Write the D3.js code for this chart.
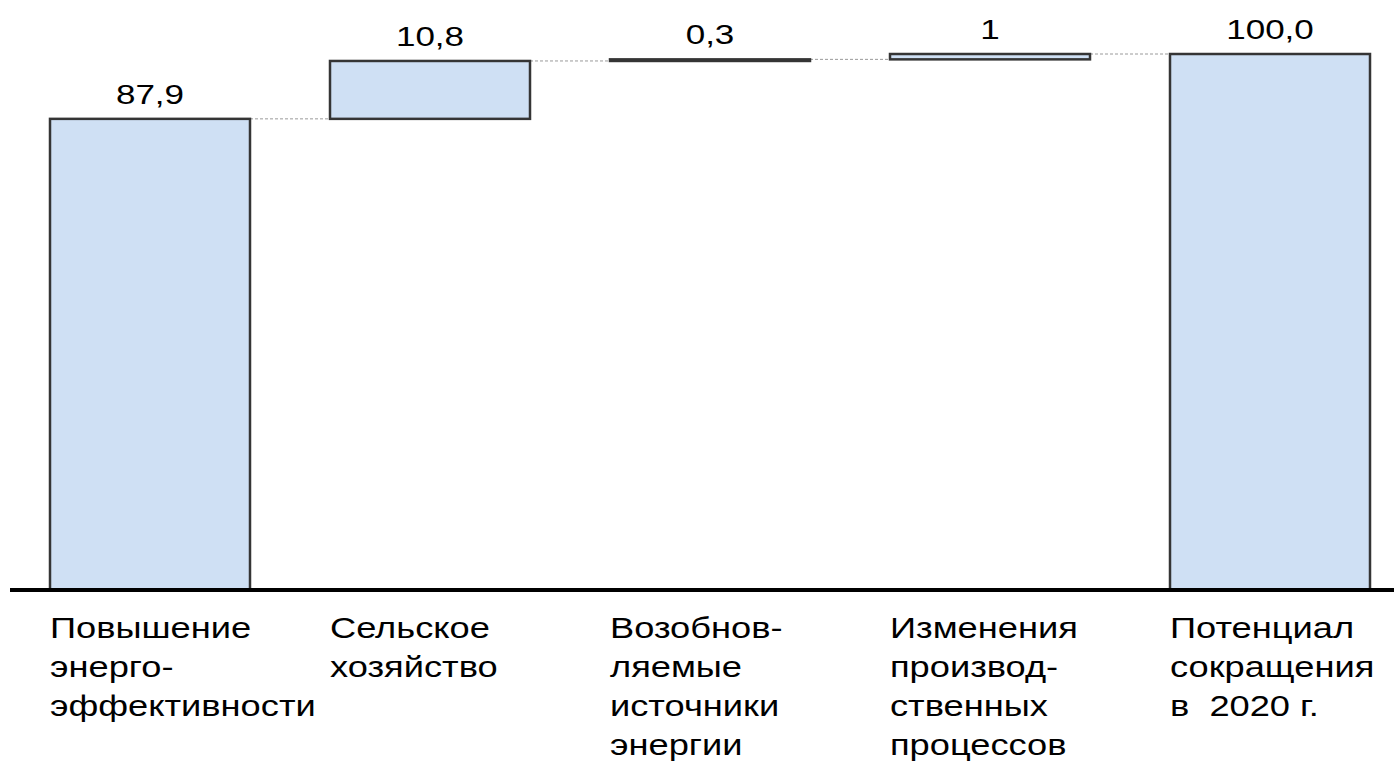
<!DOCTYPE html>
<html>
<head>
<meta charset="utf-8">
<script src="https://cdn.jsdelivr.net/npm/d3@7"></script>
<style>
  html, body { margin: 0; padding: 0; background: #fff; }
  svg { display: block; }
  text { font-family: "Liberation Sans", Arial, sans-serif; fill: #000; white-space: pre; }
</style>
</head>
<body>
<svg id="chart" width="1394" height="764"></svg>
<script>
// ---- data ----
const categories = [
  ["Повышение", "энерго-", "эффективности"],
  ["Сельское", "хозяйство"],
  ["Возобнов-", "ляемые", "источники", "энергии"],
  ["Изменения", "производ-", "ственных", "процессов"],
  ["Потенциал", "сокращения", "в  2020 г."]
];
const values = [87.9, 10.8, 0.3, 1, 100];
const valueLabels = ["87,9", "10,8", "0,3", "1", "100,0"];
const isTotal = [false, false, false, false, true];

// ---- build waterfall ----
let cum = 0;
const data = values.map((v, i) => {
  let start, end;
  if (isTotal[i]) { start = 0; end = v; cum = v; }
  else { start = cum; end = cum + v; cum = end; }
  return { i, lines: categories[i], label: valueLabels[i], start, end };
});

const svg = d3.select("#chart");
const x = d3.scaleBand().domain(d3.range(categories.length)).range([50, 1370]).paddingInner(80 / 280).paddingOuter(0);
const y = d3.scaleLinear().domain([0, 100]).range([590, 54]);
const SX = 1.25;

// connectors
svg.append("g").selectAll("line").data(data.slice(0, -1)).join("line")
  .attr("x1", d => x(d.i) + x.bandwidth())
  .attr("x2", d => x(d.i + 1))
  .attr("y1", d => y(d.end))
  .attr("y2", d => y(d.end))
  .attr("stroke", "#9a9a9a")
  .attr("stroke-width", 1)
  .attr("stroke-dasharray", "3,2");

// bars
svg.append("g").selectAll("rect").data(data).join("rect")
  .attr("x", d => x(d.i))
  .attr("width", x.bandwidth())
  .attr("y", d => y(Math.max(d.start, d.end)))
  .attr("height", d => Math.abs(y(d.start) - y(d.end)))
  .attr("fill", "#cfe0f4")
  .attr("stroke", "#353535")
  .attr("stroke-width", 2.5);

// baseline
svg.append("line")
  .attr("x1", 10).attr("x2", 1394)
  .attr("y1", y(0)).attr("y2", y(0))
  .attr("stroke", "#000").attr("stroke-width", 4);

// value labels
svg.append("g").selectAll("text").data(data).join("text")
  .attr("transform", d => `translate(${x(d.i) + x.bandwidth() / 2},${y(Math.max(d.start, d.end)) - 15}) scale(${SX},1)`)
  .attr("text-anchor", "middle")
  .attr("font-size", 28)
  .text(d => d.label);

// category labels
const cat = svg.append("g").selectAll("g").data(data).join("g");
cat.each(function(d) {
  d3.select(this).selectAll("text").data(d.lines).join("text")
    .attr("transform", (t, j) => `translate(${x(d.i)},${638 + j * 39}) scale(${SX},1)`)
    .attr("font-size", 29)
    .text(t => t);
});
</script>
</body>
</html>
